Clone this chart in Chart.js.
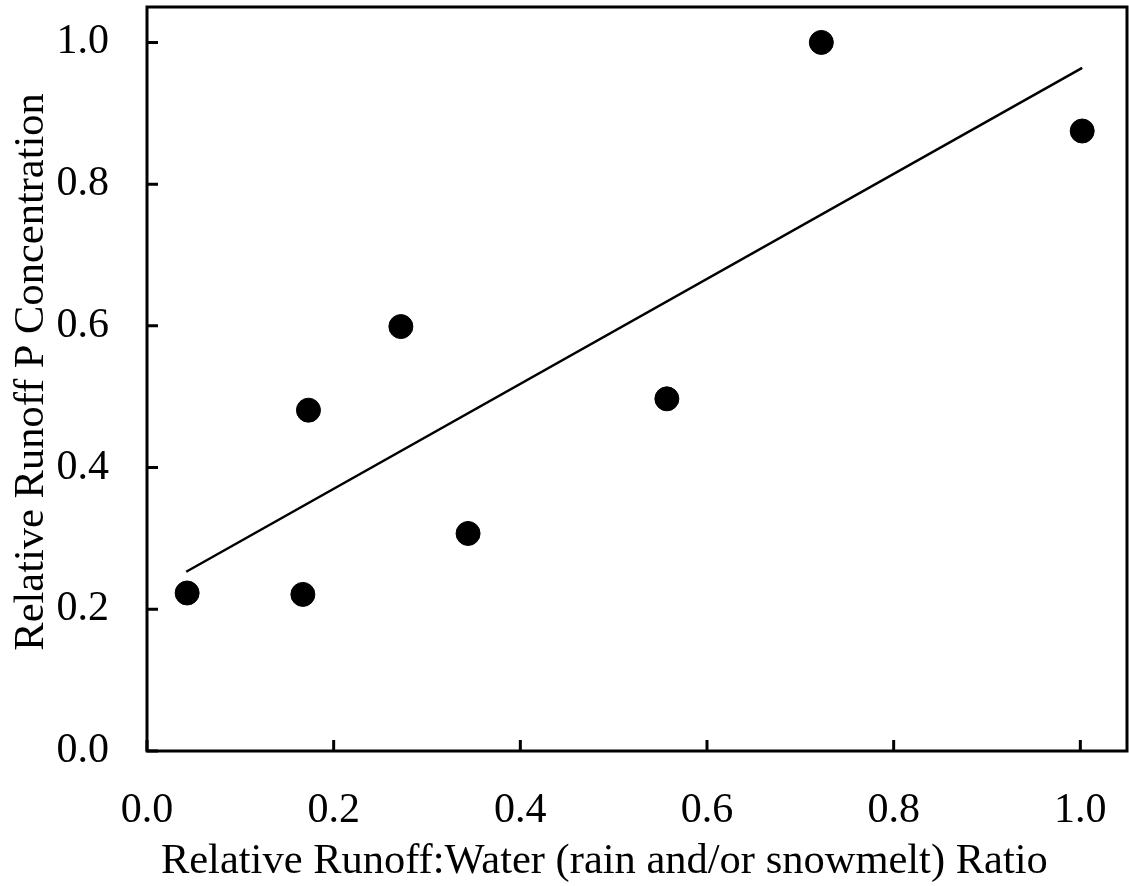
<!DOCTYPE html>
<html>
<head>
<meta charset="utf-8">
<script src="https://cdn.jsdelivr.net/npm/chart.js@4/dist/chart.umd.min.js"></script>
<style>
  body { margin: 0; background: #fff; }
</style>
</head>
<body>
<canvas id="myChart" width="1129" height="886"></canvas>
<script>
// measured points
var runoffRatio = [0.043, 0.167, 0.173, 0.272, 0.344, 0.557, 0.7225, 1.002];
var pConc = [0.223, 0.221, 0.481, 0.599, 0.307, 0.497, 1.0, 0.875];
// regression line ends
var fitX = [0.042, 1.002];
var fitY = [0.253, 0.964];
var tickValues = [0, 0.2, 0.4, 0.6, 0.8, 1.0];
var xTitle = 'Relative Runoff:Water (rain and/or snowmelt) Ratio';
var yTitle = 'Relative Runoff P Concentration';

var pts = runoffRatio.map(function (x, i) { return { x: x, y: pConc[i] }; });
var fitPts = fitX.map(function (x, i) { return { x: x, y: fitY[i] }; });

var serif = 'Liberation Serif';

// box around plot + inward tick marks + axis titles
var framePlugin = {
  id: 'frame',
  afterDraw: function (chart) {
    var ctx = chart.ctx, a = chart.chartArea;
    ctx.save();
    ctx.strokeStyle = '#000';
    ctx.lineWidth = 3;
    ctx.strokeRect(a.left, a.top, a.right - a.left, a.bottom - a.top);
    var len = 11;
    ctx.beginPath();
    tickValues.forEach(function (v) {
      var px = chart.scales.x.getPixelForValue(v);
      ctx.moveTo(px, a.bottom);
      ctx.lineTo(px, a.bottom - len);
      var py = chart.scales.y.getPixelForValue(v);
      ctx.moveTo(a.left, py);
      ctx.lineTo(a.left + len, py);
    });
    ctx.stroke();

    // titles (the original sits a little off-centre)
    ctx.fillStyle = '#000';
    ctx.font = '42.5px "' + serif + '"';
    ctx.textAlign = 'center';
    ctx.textBaseline = 'alphabetic';
    ctx.fillText(xTitle, chart.scales.x.getPixelForValue(0.49), 873);
    ctx.translate(43, chart.scales.y.getPixelForValue(0.535));
    ctx.rotate(-Math.PI / 2);
    ctx.fillText(yTitle, 0, 0);
    ctx.restore();
  }
};

var chart = new Chart(document.getElementById('myChart'), {
  type: 'scatter',
  data: {
    datasets: [{
      data: pts,
      backgroundColor: '#000',
      borderColor: '#000',
      pointRadius: 12,
      pointHoverRadius: 12
    }, {
      type: 'line',
      data: fitPts,
      borderColor: '#000',
      borderWidth: 2.5,
      pointRadius: 0,
      fill: false
    }]
  },
  options: {
    responsive: false,
    animation: false,
    events: [],
    layout: { autoPadding: false, padding: { top: 7, right: 2, left: 0, bottom: 0 } },
    plugins: { legend: { display: false }, tooltip: { enabled: false } },
    scales: {
      x: {
        type: 'linear',
        min: 0, max: 1.05,
        afterFit: function (s) {
          s.height = 135;
          s.paddingLeft = 0; s.paddingRight = 0;
        },
        afterBuildTicks: function (s) { s.ticks = tickValues.map(function (v) { return { value: v }; }); },
        grid: { display: false, drawTicks: false },
        border: { display: false },
        ticks: {
          color: '#000',
          padding: 35,
          font: { family: serif, size: 42 },
          callback: function (v) { return Number(v).toFixed(1); }
        }
      },
      y: {
        type: 'linear',
        min: 0, max: 1.05,
        afterFit: function (s) {
          s.width = 147;
          s.paddingTop = 0; s.paddingBottom = 0;
        },
        afterBuildTicks: function (s) { s.ticks = tickValues.map(function (v) { return { value: v }; }); },
        grid: { display: false, drawTicks: false },
        border: { display: false },
        ticks: {
          color: '#000',
          padding: 38,
          font: { family: serif, size: 42 },
          callback: function (v) { return Number(v).toFixed(1); }
        }
      }
    }
  },
  plugins: [framePlugin]
});
</script>
</body>
</html>
